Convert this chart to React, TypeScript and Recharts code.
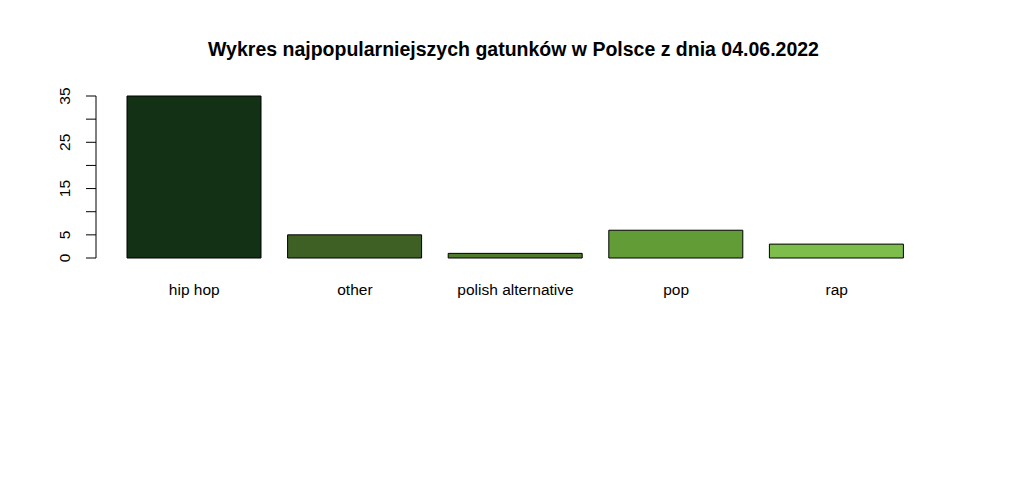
import { BarChart, Bar, XAxis, YAxis, Cell } from 'recharts';

const genres = ['hip hop', 'other', 'polish alternative', 'pop', 'rap'];
const counts = [35, 5, 1, 6, 3];
const colors = ['#133114', '#3e6024', '#4e7a2c', '#629c37', '#7dbd4b'];
const yTicks = [0, 5, 10, 15, 20, 25, 30, 35];
const yLabelled = [0, 5, 15, 25, 35];

const data = genres.map((g, i) => ({ genre: g, count: counts[i] }));

const FONT = '"Liberation Sans", Arial, sans-serif';

function YTick(props: any) {
  const { x, y, payload } = props;
  if (!yLabelled.includes(payload.value)) return null;
  const tx = x - 14;
  return (
    <text x={tx} y={y} transform={`rotate(-90, ${tx}, ${y})`} textAnchor="middle"
      fontSize={15.5} fontFamily={FONT} fill="#000">
      {payload.value}
    </text>
  );
}

function XTick(props: any) {
  const { x, y, payload } = props;
  return (
    <text x={x} y={y + 37} textAnchor="middle" fontSize={15.5} fontFamily={FONT} fill="#000">
      {payload.value}
    </text>
  );
}

export default function App() {
  return (
    <div style={{ position: 'absolute', left: 0, top: 0, width: 1030, height: 500, background: '#fff' }}>
      <div style={{
        position: 'absolute', left: 0, top: 38, width: 1027, textAlign: 'center',
        fontFamily: FONT, fontWeight: 'bold', fontSize: 19.5, color: '#000',
      }}>
        Wykres najpopularniejszych gatunków w Polsce z dnia 04.06.2022
      </div>
      <BarChart width={1030} height={500} data={data}
        margin={{ top: 96, right: 96, bottom: 212, left: 36 }}>
        <XAxis dataKey="genre" axisLine={false} tickLine={false} tickSize={0} tickMargin={0}
          padding={{ left: 18, right: 17 }} interval={0} tick={<XTick />} height={30} />
        <YAxis domain={[0, 35]} ticks={yTicks} interval={0} width={60}
          axisLine={{ stroke: '#000' }} tickLine={{ stroke: '#000' }} tickSize={10} tickMargin={2}
          tick={<YTick />} />
        <Bar dataKey="count" barSize={134} stroke="#000" strokeWidth={1} isAnimationActive={false}>
          {data.map((d, i) => <Cell key={d.genre} fill={colors[i]} />)}
        </Bar>
      </BarChart>
    </div>
  );
}
